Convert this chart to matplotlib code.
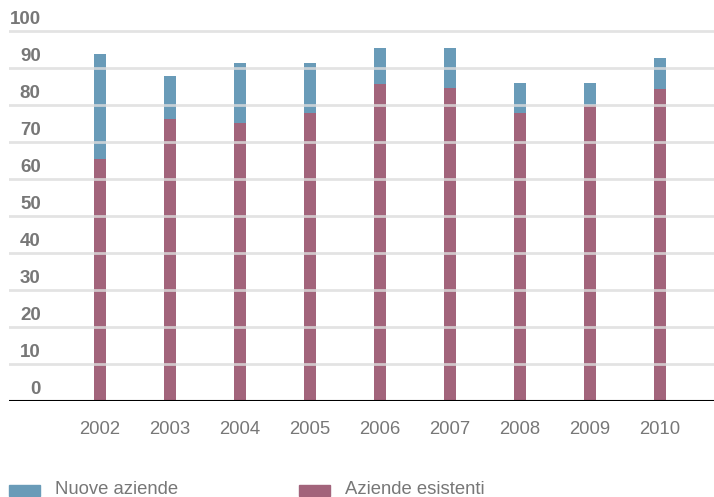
import matplotlib
matplotlib.use("Agg")
import matplotlib.pyplot as plt
from matplotlib.patches import Rectangle

years = ["2002", "2003", "2004", "2005", "2006", "2007", "2008", "2009", "2010"]
aziende_esistenti = [65.4, 76.2, 75.1, 77.8, 85.7, 84.6, 77.8, 80.0, 84.3]
nuove_aziende = [28.4, 11.6, 16.3, 13.6, 9.7, 10.8, 8.1, 5.9, 8.4]
y_ticks = [0, 10, 20, 30, 40, 50, 60, 70, 80, 90, 100]

col_new = "#699bb8"
col_old = "#a2647b"
grid_col = "#dddddd"
text_col = "#777777"

W, H = 714, 497
fig = plt.figure(figsize=(W / 100, H / 100), dpi=100)
ax_left, ax_right = 9, 714
ax_bottom, ax_top = 401, 10
ax = fig.add_axes([ax_left / W, 1 - ax_bottom / H,
                   (ax_right - ax_left) / W, (ax_bottom - ax_top) / H])

ymax = (ax_bottom - ax_top) / 3.7
x = list(range(len(years)))
bw = 0.17
ax.bar(x, aziende_esistenti, width=bw, color=col_old, zorder=2)
ax.bar(x, nuove_aziende, width=bw, bottom=aziende_esistenti, color=col_new, zorder=2)

ax.set_xlim((ax_left - 100) / 70, (ax_right - 100) / 70)
ax.set_ylim(0, ymax)

for v in y_ticks[1:]:
    ax.axhline(v, color=grid_col, lw=2.0, alpha=0.8, zorder=3)
ax.axhline(0, color="black", lw=1.5, zorder=4)

tr = ax.get_yaxis_transform()
for v in y_ticks:
    ax.text(0.045, v + 0.8, str(v), transform=tr, ha="right", va="bottom",
            fontsize=13.5, fontweight="bold", color=text_col,
            family="Liberation Sans", zorder=5)

for xi, lab in zip(x, years):
    ax.text(xi, -7.7, lab, ha="center", va="center", fontsize=13.3,
            color=text_col, family="Liberation Sans", clip_on=False)

for s in ax.spines.values():
    s.set_visible(False)
ax.set_xticks([])
ax.set_yticks([])

# legend drawn in figure pixel coordinates
def legend_item(x0, color, label):
    fig.patches.append(Rectangle((x0 / W, 1 - 496 / H), 31 / W, 11 / H,
                                 transform=fig.transFigure, color=color))
    fig.text((x0 + 46) / W, 1 - 490 / H, label, ha="left", va="center",
             fontsize=13.3, color=text_col, family="Liberation Sans")

legend_item(9, col_new, "Nuove aziende")
legend_item(299, col_old, "Aziende esistenti")

fig.savefig("out.png", dpi=100)
